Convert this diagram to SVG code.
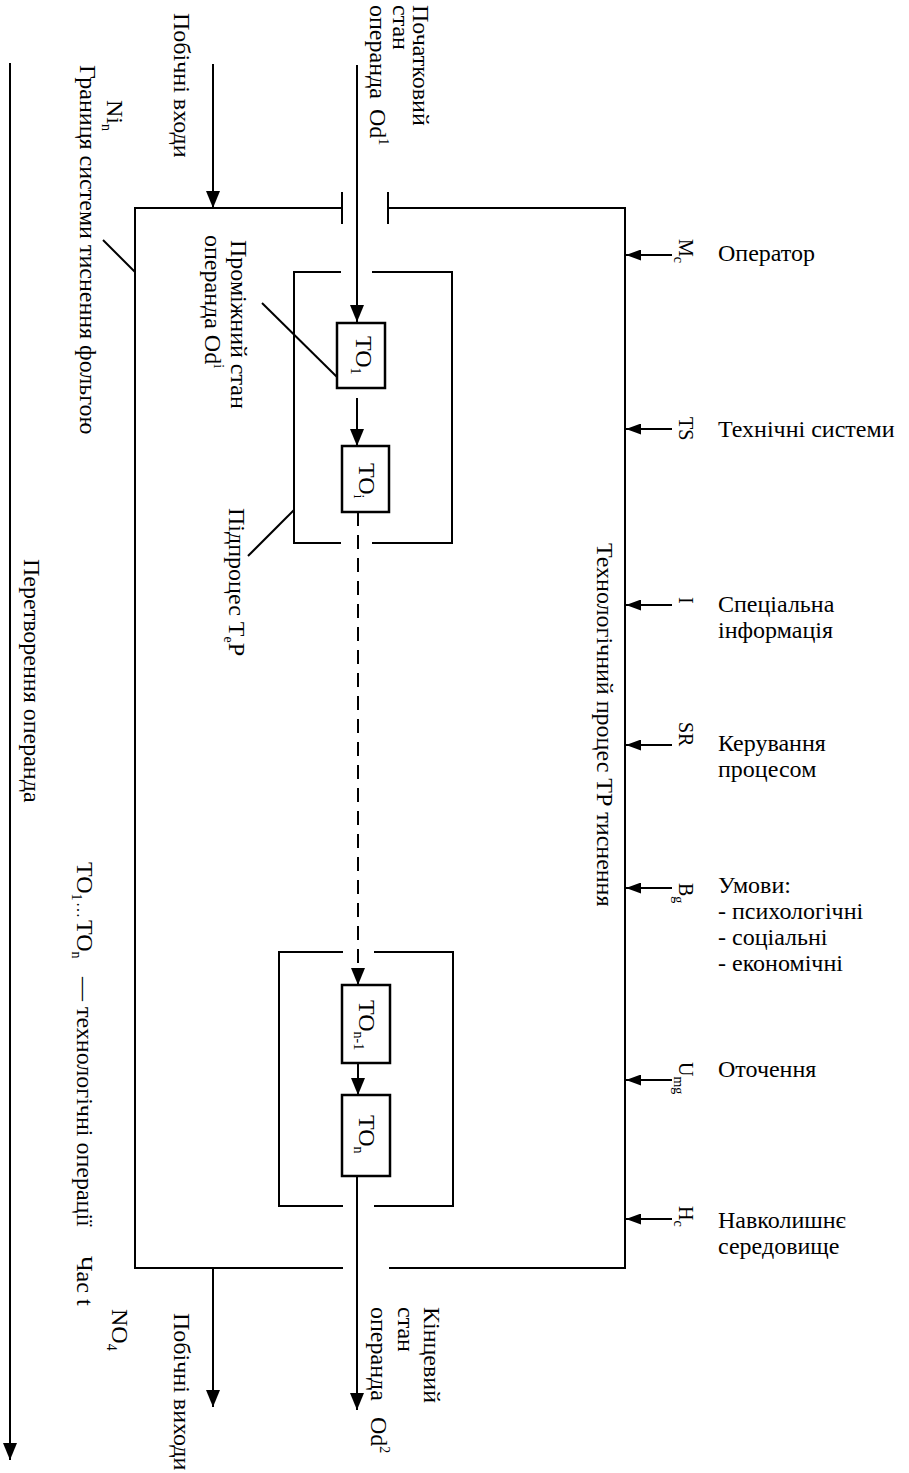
<svg xmlns="http://www.w3.org/2000/svg" width="909" height="1473" viewBox="0 0 909 1473">
<defs>
<style>
.t{font-family:"Liberation Serif","Times New Roman",serif;font-size:24px;fill:#000}
.s{font-family:"Liberation Serif","Times New Roman",serif;font-size:20px;fill:#000}
.sub{font-size:14px}
.ln{stroke:#000;stroke-width:2;fill:none}
.frame{stroke:#000;stroke-width:2;fill:none}
.op{stroke:#000;stroke-width:2.5;fill:#fff}
.dash{stroke:#000;stroke-width:2;fill:none;stroke-dasharray:14 9}
</style>
<marker id="av" markerUnits="userSpaceOnUse" markerWidth="17" markerHeight="14" refX="17" refY="7" orient="auto">
<path d="M0,0 L17,7 L0,14 z" fill="#000"/>
</marker>
<marker id="ah" markerUnits="userSpaceOnUse" markerWidth="15" markerHeight="11" refX="15" refY="5.5" orient="auto">
<path d="M0,0 L15,5.5 L0,11 z" fill="#000"/>
</marker>
</defs>
<rect width="909" height="1473" fill="#fff"/>

<g id="system-boundary">
<path class="frame" d="M342,208 L135,208 L135,1268 L343,1268"/>
<path class="frame" d="M388,208 L625,208 L625,1268 L389,1268"/>
<line class="ln" x1="342" y1="192" x2="342" y2="224"/>
<line class="ln" x1="388" y1="192" x2="388" y2="224"/>
</g>

<g id="subprocess-1">
<path class="frame" d="M341,272 L294,272 L294,543 L341,543"/>
<path class="frame" d="M372,272 L452,272 L452,543 L372,543"/>
</g>

<g id="subprocess-2">
<path class="frame" d="M343,952 L279,952 L279,1206 L343,1206"/>
<path class="frame" d="M374,952 L453,952 L453,1206 L374,1206"/>
</g>

<g id="to1">
<rect class="op" x="337" y="323" width="48" height="65"/>
<text class="t" font-size="22" transform="translate(356,336) rotate(90)">TO<tspan class="sub" dy="5">1</tspan></text>
</g>
<g id="toi">
<rect class="op" x="342" y="446" width="47" height="66"/>
<text class="t" font-size="22" transform="translate(359,463) rotate(90)">TO<tspan class="sub" dy="5">i</tspan></text>
</g>
<g id="ton-1">
<rect class="op" x="342" y="985" width="48" height="78"/>
<text class="t" font-size="22" transform="translate(359,1000) rotate(90)">TO<tspan class="sub" dy="5">n-1</tspan></text>
</g>
<g id="ton">
<rect class="op" x="342" y="1095" width="48" height="81"/>
<text class="t" font-size="22" transform="translate(359,1115) rotate(90)">TO<tspan class="sub" dy="5">n</tspan></text>
</g>

<g id="connectors">
<line class="ln" x1="357" y1="65" x2="357" y2="322" marker-end="url(#av)"/>
<line class="ln" x1="213" y1="64" x2="213" y2="208" marker-end="url(#av)"/>
<line class="ln" x1="357" y1="398" x2="357" y2="446" marker-end="url(#av)"/>
<line class="dash" x1="358" y1="512" x2="358" y2="985" marker-end="url(#av)"/>
<line class="ln" x1="358" y1="1063" x2="358" y2="1095" marker-end="url(#av)"/>
<line class="ln" x1="357" y1="1176" x2="357" y2="1410" marker-end="url(#av)"/>
<line class="ln" x1="213" y1="1268" x2="213" y2="1407" marker-end="url(#av)"/>
<line class="ln" stroke-width="2.5" x1="10" y1="63" x2="10" y2="1460" marker-end="url(#av)"/>
<line class="ln" x1="672" y1="255" x2="626" y2="255" marker-end="url(#ah)"/>
<line class="ln" x1="672" y1="429" x2="626" y2="429" marker-end="url(#ah)"/>
<line class="ln" x1="672" y1="605" x2="626" y2="605" marker-end="url(#ah)"/>
<line class="ln" x1="672" y1="745" x2="626" y2="745" marker-end="url(#ah)"/>
<line class="ln" x1="672" y1="888" x2="626" y2="888" marker-end="url(#ah)"/>
<line class="ln" x1="672" y1="1080" x2="626" y2="1080" marker-end="url(#ah)"/>
<line class="ln" x1="672" y1="1219" x2="626" y2="1219" marker-end="url(#ah)"/>
<line class="ln" x1="103" y1="240" x2="135" y2="272"/>
<line class="ln" x1="262" y1="303" x2="337" y2="377"/>
<line class="ln" x1="294" y1="510" x2="248" y2="556"/>
</g>

<g id="label-input">
<text class="t" transform="translate(413,5) rotate(90)"><tspan x="0" y="0">Початковий</tspan><tspan x="0" y="20">стан</tspan><tspan x="0" y="43">операнда</tspan><tspan x="104" y="43">Od</tspan><tspan class="sub" dy="-9">1</tspan></text>
</g>
<g id="label-output">
<text class="t" transform="translate(424,1307) rotate(90)"><tspan x="0" y="0">Кінцевий</tspan><tspan x="0" y="26">стан</tspan><tspan x="0" y="53">операнда</tspan><tspan x="110" y="53">Od</tspan><tspan class="sub" dy="-9">2</tspan></text>
</g>
<g id="label-side-in">
<text class="t" transform="translate(174,13) rotate(90)">Побічні входи</text>
</g>
<g id="label-ni">
<text class="t" font-size="22" transform="translate(107,100) rotate(90)">Ni<tspan class="sub" dy="5">n</tspan></text>
</g>
<g id="label-boundary">
<text class="t" transform="translate(80,65) rotate(90)">Границя системи тиснення фольгою</text>
</g>
<g id="label-intermediate">
<text class="t" transform="translate(231,240) rotate(90)"><tspan x="0" y="0">Проміжний стан</tspan><tspan x="-5" y="26">операнда Od</tspan><tspan class="sub" dy="-9">i</tspan></text>
</g>
<g id="label-subprocess">
<text class="t" transform="translate(229,508) rotate(90)">Підпроцес T<tspan class="sub" dy="5">e</tspan><tspan dy="-5">P</tspan></text>
</g>
<g id="label-process">
<text class="t" font-size="23" transform="translate(597,543) rotate(90)">Технологічний процес ТР тиснення</text>
</g>
<g id="label-transform">
<text class="t" transform="translate(24,559) rotate(90)">Перетворення операнда</text>
</g>
<g id="label-ops">
<text class="t" transform="translate(77,862) rotate(90)"><tspan x="0" y="0">TO</tspan><tspan class="sub" dy="5">1</tspan><tspan font-size="16" x="40" y="0">…</tspan><tspan x="58" y="0">TO</tspan><tspan class="sub" dy="5">n</tspan><tspan x="115" y="0">— технологічні операції</tspan></text>
<text class="t" transform="translate(77,1256) rotate(90)">Час t</text>
</g>
<g id="label-no4">
<text class="t" font-size="22" transform="translate(112,1309) rotate(90)">NO<tspan class="sub" dy="5">4</tspan></text>
</g>
<g id="label-side-out">
<text class="t" transform="translate(174,1313) rotate(90)">Побічні виходи</text>
</g>

<g id="sym-mc"><text class="s" transform="translate(679,239) rotate(90)">M<tspan class="sub" dy="5">c</tspan></text></g>
<g id="sym-ts"><text class="s" transform="translate(679,417) rotate(90)">TS</text></g>
<g id="sym-i"><text class="s" transform="translate(679,597) rotate(90)">I</text></g>
<g id="sym-sr"><text class="s" transform="translate(679,722) rotate(90)">SR</text></g>
<g id="sym-bg"><text class="s" transform="translate(679,883) rotate(90)">B<tspan class="sub" dy="5">g</tspan></text></g>
<g id="sym-umg"><text class="s" transform="translate(679,1062) rotate(90)">U<tspan class="sub" dy="5">mg</tspan></text></g>
<g id="sym-hc"><text class="s" transform="translate(679,1206) rotate(90)">H<tspan class="sub" dy="5">c</tspan></text></g>

<g id="label-operator"><text class="t" x="718" y="261">Оператор</text></g>
<g id="label-tech-systems"><text class="t" x="718" y="437">Технічні системи</text></g>
<g id="label-info"><text class="t" x="718" y="612">Спеціальна<tspan x="718" y="638">інформація</tspan></text></g>
<g id="label-control"><text class="t" x="718" y="751">Керування<tspan x="718" y="777">процесом</tspan></text></g>
<g id="label-conditions"><text class="t" x="718" y="893">Умови:<tspan x="718" y="919">- психологічні</tspan><tspan x="718" y="945">- соціальні</tspan><tspan x="718" y="971">- економічні</tspan></text></g>
<g id="label-surroundings"><text class="t" x="718" y="1077">Оточення</text></g>
<g id="label-environment"><text class="t" x="718" y="1228">Навколишнє<tspan x="718" y="1254">середовище</tspan></text></g>
</svg>
